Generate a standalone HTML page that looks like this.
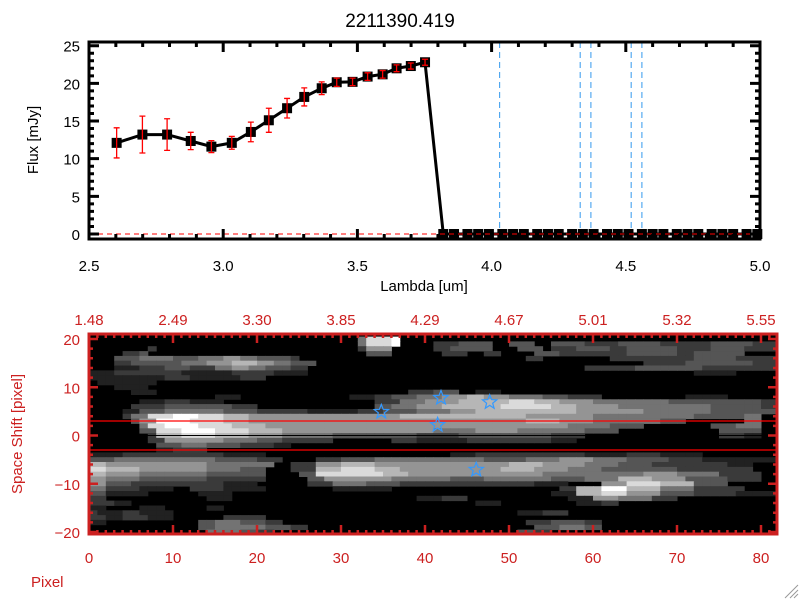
<!DOCTYPE html>
<html><head><meta charset="utf-8"><style>
html,body{margin:0;padding:0;background:#fff;width:800px;height:600px;overflow:hidden}
svg{display:block;font-family:"Liberation Sans",sans-serif}
</style></head><body>
<svg id="chart" width="800" height="600" viewBox="0 0 800 600">
<rect width="800" height="600" fill="#fff"/>
<text x="400" y="27" font-size="19" text-anchor="middle">2211390.419</text>
<g id="topPlot"></g>
<g id="botPlot"></g>
<text x="424" y="291" font-size="15" text-anchor="middle">Lambda [um]</text>
<text transform="translate(38,140) rotate(-90)" font-size="15" text-anchor="middle">Flux [mJy]</text>
<text transform="translate(22,434) rotate(-90)" font-size="15" fill="#cc2020" text-anchor="middle">Space Shift [pixel]</text>
<text x="31" y="587" font-size="15" fill="#cc2020">Pixel</text>
<path d="M785 598 L798 585 M790 598 L798 590 M794 598 L798 594" stroke="#999" stroke-width="1"/>
</svg>
<script>
const lambdaVals=[2.603,2.699,2.791,2.879,2.956,3.032,3.103,3.170,3.238,3.302,3.367,3.423,3.482,3.538,3.594,3.646,3.699,3.752,3.82,3.86,3.91,3.95,3.99,4.04,4.08,4.12,4.17,4.21,4.25,4.30,4.34,4.38,4.43,4.47,4.51,4.56,4.60,4.64,4.69,4.73,4.77,4.82,4.86,4.90,4.95,4.99];
const fluxVals=[12.1,13.2,13.2,12.35,11.6,12.1,13.55,15.1,16.7,18.2,19.35,20.15,20.2,20.9,21.2,22.0,22.3,22.8,0,0,0,0,0,0,0,0,0,0,0,0,0,0,0,0,0,0,0,0,0,0,0,0,0,0,0,0];
const fluxErr=[2.0,2.45,2.1,1.15,0.8,0.85,1.3,1.6,1.3,1.2,0.85,0.55,0.5,0.5,0.5,0.45,0.4,0.4,0,0,0,0,0,0,0,0,0,0,0,0,0,0,0,0,0,0,0,0,0,0,0,0,0,0,0,0];
const lineMarkers=[4.03,4.33,4.37,4.52,4.56];
const xTicksTop=[2.5,3.0,3.5,4.0,4.5,5.0];
const xTickLabelsTop=["2.5","3.0","3.5","4.0","4.5","5.0"];
const yTicksTop=[0,5,10,15,20,25];
const pixTicks=[0,10,20,30,40,50,60,70,80];
const lambdaTickLabels=["1.48","2.49","3.30","3.85","4.29","4.67","5.01","5.32","5.55"];
const shiftTicks=[-20,-10,0,10,20];
const starX=[34.8,41.9,41.5,47.7,46.1];
const starY=[4.9,7.8,2.2,6.9,-7.1];
const extractY=[3,-3];
const imgRows=[
"0:32 5:1 8:3 9:1 0:45",
"0:32 5:1 8:3 9:1 0:4 3:3 4:4 0:2 4:3 0:2 4:4 3:4 4:5 3:6 4:5 3:3 0:3",
"0:7 3:1 0:24 3:1 6:3 0:5 3:2 4:5 0:3 4:3 0:1 3:3 4:4 3:2 4:6 3:4 4:4 3:4 0:5",
"0:4 3:2 4:1 0:26 4:3 0:6 3:3 0:2 3:2 0:4 4:3 3:8 4:6 3:2 4:6 0:4",
"0:3 4:3 5:4 4:3 5:3 6:2 5:2 4:4 3:1 0:27 3:2 0:8 3:4 3:6 4:5 3:6 0:4",
"0:3 3:2 4:3 4:3 5:3 6:3 7:3 6:2 5:2 4:3 0:39 3:5 4:8 3:3 0:4",
"0:3 2:3 3:3 4:3 3:3 5:2 6:2 5:2 4:3 3:2 0:33 3:6 4:8 3:9",
"2:3 3:8 2:6 3:5 2:4 0:46 2:5 0:5",
"2:9 3:3 2:6 3:3 0:61",
"0:1 2:7 0:74",
"0:3 2:4 0:75",
"0:5 2:3 0:30 3:3 4:3 0:2 2:3 0:33",
"0:15 2:3 0:13 2:3 3:2 4:3 5:3 6:3 7:2 6:3 5:4 4:3 3:4 0:10 2:5 0:9",
"0:6 2:3 3:3 2:4 0:18 3:3 5:3 6:4 7:3 7:3 8:3 7:3 6:4 5:4 5:5 4:6 4:5 3:5 0:2 4:2",
"0:5 3:4 4:4 4:4 3:3 0:14 4:2 5:3 6:3 7:4 7:3 8:3 8:3 7:3 6:5 5:5 5:6 4:6 3:4 4:4 4:2",
"0:4 2:2 4:3 5:3 5:4 4:4 3:6 2:6 3:3 4:4 5:4 6:3 7:3 7:3 7:3 7:3 6:4 6:4 5:4 5:4 4:4 4:4 4:3",
"0:4 3:1 5:2 8:3 9:3 8:3 7:3 6:4 6:6 6:4 6:4 7:4 7:5 7:3 7:3 6:4 6:4 5:4 5:4 5:4 4:4 4:2 5:2",
"0:5 4:1 6:2 9:4 8:4 7:3 6:5 6:6 6:6 6:5 6:6 6:5 7:4 6:4 5:4 5:4 4:3 0:7 5:2",
"0:6 5:1 8:2 9:4 8:4 7:4 6:6 6:6 6:5 6:5 6:5 6:4 6:5 5:5 4:4 0:8 4:3 5:3",
"0:6 4:2 8:3 9:4 8:4 7:4 6:6 6:6 6:6 5:5 6:5 5:4 5:4 4:4 0:12 4:3 4:2",
"0:7 3:1 7:3 8:4 7:4 6:4 5:6 4:6 4:4 3:5 4:4 4:4 4:3 3:4 0:16 3:3 2:2",
"0:7 3:2 6:4 6:3 5:4 4:3 3:6 0:7 3:3 2:6 3:5 3:5 2:3 0:24",
"0:8 4:3 5:3 4:4 3:4 2:2 0:58",
"0:8 2:2 3:4 0:68",
"2:4 3:4 3:4 3:4 2:5 0:22 2:3 3:2 3:4 3:3 3:4 2:5 3:4 2:5 0:10",
"4:3 5:4 5:4 5:4 4:5 3:3 0:4 3:3 4:4 5:4 5:4 5:5 4:5 5:4 6:4 5:4 4:5 3:4 2:5 2:4",
"7:2 6:4 6:4 6:4 5:4 5:4 0:2 3:3 6:3 7:4 6:4 6:4 6:4 6:4 7:4 6:5 5:4 4:4 3:4 3:5 2:3",
"8:2 7:4 6:4 6:4 5:4 4:3 0:3 3:3 7:3 8:4 7:3 6:4 6:4 6:4 7:4 6:4 5:4 4:5 4:4 3:5 3:4",
"7:2 6:4 5:4 5:4 4:4 4:3 0:4 4:2 8:4 8:4 7:3 6:4 6:4 6:4 6:4 5:4 5:4 5:4 6:4 5:5 3:5",
"6:2 5:4 4:4 4:4 3:4 3:3 0:5 4:2 6:4 6:4 5:3 5:4 4:4 5:4 5:4 4:4 5:4 7:4 6:4 4:5 3:4",
"6:2 4:3 3:4 3:4 3:3 2:4 0:6 3:3 5:4 4:4 3:4 3:4 3:4 3:4 2:4 0:4 6:3 8:4 7:4 4:4",
"5:2 3:4 2:4 0:2 3:4 2:5 0:8 2:4 2:3 0:20 3:2 7:3 9:3 7:4 5:4 3:6",
"4:2 2:5 0:6 2:4 0:38 2:3 7:3 8:3 6:4 4:4 3:5 2:5",
"3:2 0:12 2:3 0:22 2:3 3:3 0:12 2:3 6:3 5:4 3:3 0:13",
"3:3 2:2 0:41 2:3 0:9 2:3 3:2 0:19",
"2:2 0:4 2:3 0:5 2:2 0:66",
"3:1 2:3 3:2 2:4 0:41 2:3 3:3 0:25",
"3:2 2:2 3:3 2:3 0:6 3:5 0:61",
"2:2 0:11 4:2 5:3 4:3 3:2 0:29 3:3 4:4 3:2 0:21",
"0:13 4:2 5:3 5:3 4:3 3:2 0:27 4:3 5:3 4:2 0:22",
"0:14 5:4 4:2 3:2 0:29 4:2 3:2 0:27"
];
const NS="http://www.w3.org/2000/svg";
function mk(tag,attrs,parent){const e=document.createElementNS(NS,tag);for(const k in attrs)e.setAttribute(k,attrs[k]);parent.appendChild(e);return e;}
const topG=document.getElementById('topPlot'), botG=document.getElementById('botPlot');
const TL=89,TR=760,TT=42,TB=239;
const sx=v=>TL+(v-2.5)*(TR-TL)/2.5;
const sy=v=>234-v*(234-45.7)/25;
for(const lm of lineMarkers){
 const l=mk('line',{x1:sx(lm),x2:sx(lm),y1:TT,y2:TB,stroke:'#3399ee','stroke-width':1,'stroke-dasharray':'6,4'},topG);
 
 
}
let d='';lambdaVals.forEach((v,i)=>{d+=(i?'L':'M')+sx(v).toFixed(1)+' '+sy(fluxVals[i]).toFixed(1);});
const sl=mk('path',{d:d,fill:'none',stroke:'#000','stroke-width':3},topG);


lambdaVals.forEach((v,i)=>{
 const x=sx(v),y=sy(fluxVals[i]);
 const s=mk('rect',{x:x-5,y:y-5,width:10,height:10,fill:'#000'},topG);
 
 
 if(fluxErr[i]>0){
  const y1=sy(fluxVals[i]+fluxErr[i]),y2=sy(fluxVals[i]-fluxErr[i]);
  const e=mk('path',{d:`M${x} ${y1}V${y2}M${x-3} ${y1}H${x+3}M${x-3} ${y2}H${x+3}`,stroke:'#ff0000','stroke-width':1.3,fill:'none'},topG);
  
  
 }
});
const zl=mk('line',{x1:TL,x2:TR,y1:sy(0),y2:sy(0),stroke:'#ff0000','stroke-width':1,'stroke-dasharray':'5,4'},topG);


const tb=mk('rect',{x:TL,y:TT,width:TR-TL,height:TB-TT,fill:'none',stroke:'#000','stroke-width':3},topG);


let tk='';
for(let i=0;i<=25;i++){const v=2.5+i*0.1,x=sx(v),L=(i%5==0)?10:5;tk+=`M${x} ${TB}v${-L}M${x} ${TT}v${L}`;}
for(let i=0;i<=25;i++){const y=sy(i),L=(i%5==0)?10:5;tk+=`M${TL} ${y}h${L}M${TR} ${y}h${-L}`;}
const tkp=mk('path',{d:tk,stroke:'#000','stroke-width':3},topG);


xTicksTop.forEach((v,i)=>{const t=mk('text',{x:sx(v),y:271,'font-size':15,'text-anchor':'middle'},topG);t.textContent=xTickLabelsTop[i];
 
 });
yTicksTop.forEach(v=>{const t=mk('text',{x:80,y:sy(v)+6,'font-size':15,'text-anchor':'end'},topG);t.textContent=v;
 
 });
const BL=89,BR=777,BT=334,BB=534,RED='#cc2020';
const px=c=>BL+c*8.4;
const py=v=>339+(20-v)*4.825;
const bg=mk('rect',{x:BL,y:BT,width:BR-BL,height:BB-BT,fill:'#000'},botG);


imgRows.forEach((row,r)=>{
 const yv=20-r;let c=0;
 row.split(' ').forEach(tok=>{const [v,n]=tok.split(':').map(Number);
  for(let k=0;k<n;k++){if(c<82&&v>0){const g=Math.round(255*Math.pow(v/9,1.35));
   const cell=mk('rect',{x:px(c).toFixed(1),y:(py(yv+0.5)).toFixed(1),width:8.9,height:5.3,fill:`rgb(${g},${g},${g})`},botG);
   
   }
   c++;}
 });
});
extractY.forEach(v=>{const l=mk('line',{x1:BL,x2:BR,y1:py(v),y2:py(v),stroke:'#ff0000','stroke-width':1.2},botG);
 
 });
const cl=mk('line',{x1:BL,x2:BR,y1:py(0),y2:py(0),stroke:'#000','stroke-width':1},botG);


starX.forEach((v,i)=>{const cx=px(v),cy=py(starY[i]);let p='';
 for(let k=0;k<10;k++){const a=-Math.PI/2+k*Math.PI/5,r=k%2?3.2:7.5;p+=(k?'L':'M')+(cx+r*Math.cos(a)).toFixed(1)+' '+(cy+r*Math.sin(a)).toFixed(1);}
 const s=mk('path',{d:p+'Z',fill:'none',stroke:'#3399ff','stroke-width':1.2},botG);
 
 });
const bf=mk('rect',{x:BL,y:BT,width:BR-BL,height:BB-BT,fill:'none',stroke:RED,'stroke-width':3},botG);


let bt='';
for(let i=0;i<=81;i++){const x=px(i),L=(i%10==0)?9:4;bt+=`M${x} ${BB}v${-L}M${x} ${BT}v${L}`;}
for(let i=-20;i<=20;i+=2){const y=py(i),L=(i%10==0)?9:4;bt+=`M${BL} ${y}h${L}M${BR} ${y}h${-L}`;}
const btp=mk('path',{d:bt,stroke:RED,'stroke-width':2.5},botG);


pixTicks.forEach((v,i)=>{
 const t=mk('text',{x:px(v),y:563,'font-size':15,'text-anchor':'middle',fill:RED},botG);t.textContent=v;
 
 
 const t2=mk('text',{x:px(v),y:325,'font-size':15,'text-anchor':'middle',fill:RED},botG);t2.textContent=lambdaTickLabels[i];
 
 
});
shiftTicks.forEach(v=>{const t=mk('text',{x:80,y:py(v)+6,'font-size':15,'text-anchor':'end',fill:RED},botG);t.textContent=(v<0?'\u2212':'')+Math.abs(v);
 
 });
</script>
</body></html>
